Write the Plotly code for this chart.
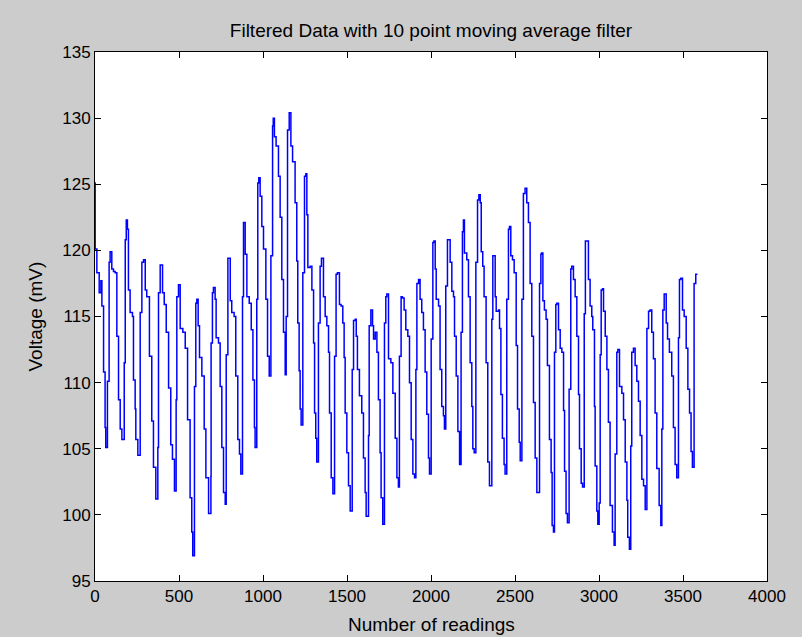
import plotly.graph_objects as go

# Readings (x) and filtered voltage (mV)
readings = [
    0, 1, 11, 25, 35, 41, 51, 60, 64, 74, 84, 90, 100, 110, 120, 130, 140, 150, 160,
    174, 180, 186, 193, 199, 209, 223, 229, 239, 243, 255,
    269, 279, 289, 299, 308, 324, 338, 348, 362,
    374, 378, 388, 402, 412, 424, 438, 451, 461, 473,
    483, 487, 497, 507, 523, 537, 551, 566, 576, 582,
    592, 600, 606, 614, 622, 636, 650, 660, 676,
    690, 691, 699, 705, 715, 721, 735, 745, 755, 765, 775,
    781, 791, 805, 814, 828, 838, 850, 860, 868,
    878, 884, 894, 904, 918, 930, 940, 949, 953,
    963, 969, 975, 983, 993, 1003, 1017, 1027, 1037,
    1047, 1057, 1061, 1068, 1078, 1092, 1102, 1112, 1122, 1132,
    1138, 1146, 1156, 1166, 1176, 1191, 1201, 1207, 1215, 1221, 1227,
    1237, 1247, 1255, 1261, 1267, 1281, 1291, 1301, 1307, 1314, 1320,
    1330, 1340, 1348, 1360, 1370, 1380, 1390, 1396, 1406, 1416,
    1426, 1435, 1443, 1455, 1465, 1475, 1483, 1489, 1499, 1509, 1519,
    1531, 1539, 1549, 1555, 1562, 1574, 1588, 1598, 1608, 1614,
    1628, 1632, 1642, 1652, 1658, 1668, 1678, 1687, 1697, 1703, 1713,
    1723, 1731, 1737, 1747, 1761, 1773, 1787, 1797, 1806,
    1812, 1822, 1830, 1840, 1850, 1862, 1872, 1882, 1892, 1902,
    1910, 1916, 1926, 1935, 1945, 1955, 1965, 1975, 1985, 1991,
    2001, 2011, 2017, 2025, 2031, 2045, 2054, 2064, 2074, 2080,
    2088, 2098, 2106, 2114, 2124, 2134, 2140, 2150, 2160, 2170,
    2179, 2187, 2193, 2199, 2213, 2223, 2233, 2243, 2249, 2257,
    2267, 2277, 2285, 2293, 2299, 2308, 2316, 2328, 2338, 2348,
    2362, 2368, 2378, 2382, 2388, 2402, 2408, 2416, 2425, 2435, 2441,
    2451, 2461, 2467, 2475, 2485, 2495, 2507, 2515, 2525, 2531,
    2541, 2550, 2560, 2570, 2580, 2590, 2600, 2610, 2620, 2630,
    2646, 2654, 2658, 2666, 2675, 2685, 2693, 2705, 2715, 2721, 2729,
    2735, 2743, 2749, 2759, 2769, 2779, 2789, 2795, 2804, 2812,
    2822, 2832, 2838, 2848, 2858, 2868, 2878, 2884, 2894, 2902,
    2912, 2919, 2927, 2937, 2947, 2957, 2963, 2973, 2977, 2987, 2993,
    3001, 3007, 3013, 3021, 3027, 3037, 3047, 3056, 3066, 3080, 3090,
    3096, 3106, 3112, 3122, 3136, 3146, 3156, 3166, 3171, 3181,
    3189, 3195, 3205, 3215, 3225, 3235, 3245, 3255, 3265, 3275,
    3285, 3295, 3304, 3314, 3324, 3334, 3344, 3358, 3368,
    3374, 3380, 3388, 3400, 3408, 3419, 3433, 3443, 3453, 3463,
    3473, 3479, 3487, 3497, 3507, 3519, 3529, 3539, 3548, 3556,
    3566, 3576, 3586,
]

voltage_mv = [
    125.1, 120.1, 118.3, 116.8, 117.7, 115.8, 110.8, 106.6, 105.1, 110.1, 119.1, 119.9, 118.6, 118.4, 118.3, 113.5, 108.7, 106.5, 105.7,
    111.5, 120.8, 122.3, 121.6, 117.0, 115.3, 115.0, 110.2, 108.0, 105.7, 104.5,
    115.3, 119.1, 119.3, 117.0, 116.5, 112.0, 107.1, 103.6, 101.2,
    105.1, 116.8, 118.9, 116.8, 115.9, 113.8, 109.6, 105.3, 104.2, 101.8,
    108.7, 116.5, 117.4, 114.1, 113.8, 112.6, 107.2, 101.3, 98.7, 96.9,
    109.7, 116.0, 116.3, 114.3, 111.9, 110.5, 106.5, 102.8, 100.1,
    102.9, 113.0, 116.8, 117.2, 116.3, 113.4, 113.0, 109.7, 105.1, 101.7, 100.8,
    112.1, 119.4, 116.2, 115.3, 115.0, 110.5, 105.7, 104.6, 103.1,
    116.5, 122.1, 119.7, 116.5, 116.0, 114.0, 110.2, 106.6, 105.1,
    116.3, 125.1, 125.5, 124.1, 121.8, 120.1, 116.3, 112.0, 110.5,
    119.6, 129.4, 130.0, 128.6, 127.9, 125.6, 122.5, 117.8, 113.8, 110.6,
    115.0, 129.1, 130.4, 127.9, 126.7, 123.6, 119.2, 114.5, 110.9, 108.0, 106.8,
    118.3, 125.6, 125.8, 122.7, 118.7, 118.8, 117.0, 113.0, 107.7, 105.8, 104.0,
    114.5, 118.8, 119.4, 116.5, 115.0, 114.3, 112.3, 107.7, 102.8, 101.6,
    112.0, 118.2, 118.3, 115.9, 115.8, 114.5, 111.9, 107.7, 104.7, 102.2, 100.3,
    111.0, 114.7, 114.8, 113.5, 111.0, 109.0, 107.7, 104.3, 101.7, 99.9,
    106.0, 114.3, 115.5, 114.3, 113.3, 113.8, 112.3, 108.7, 104.7, 101.3, 99.3,
    114.5, 116.5, 116.7, 111.8, 111.5, 109.2, 105.8, 102.8, 102.1,
    112.0, 116.5, 116.4, 115.5, 114.0, 113.5, 110.0, 105.7, 103.1, 102.8,
    111.0, 117.5, 117.8, 116.3, 115.3, 114.0, 110.8, 107.6, 104.3, 103.1,
    113.3, 120.6, 120.7, 118.6, 116.3, 115.8, 111.0, 108.2, 107.5, 106.5,
    117.3, 120.8, 120.8, 119.1, 116.9, 116.5, 113.5, 110.5, 106.3, 103.8,
    113.8, 121.4, 122.3, 119.8, 119.3, 116.5, 111.5, 108.2, 105.0, 104.7,
    119.1, 123.8, 124.2, 123.6, 119.9, 118.8, 116.5, 111.5, 104.0, 102.2,
    114.8, 119.6, 119.6, 116.5, 115.4, 115.5, 114.1, 109.1, 105.8, 103.8, 103.1,
    116.3, 121.6, 121.8, 119.6, 119.3, 118.3, 112.8, 108.0, 105.5, 104.1,
    116.3, 124.3, 124.7, 123.6, 122.1, 117.5, 113.5, 108.5, 104.3, 101.7,
    117.5, 119.7, 119.8, 116.2, 115.5, 114.8, 111.3, 105.7, 103.2, 99.2, 98.7,
    112.3, 115.9, 116.0, 114.0, 112.6, 112.3, 107.9, 103.3, 100.1, 99.4,
    109.5, 118.6, 118.8, 117.8, 116.5, 113.5, 109.1, 105.0, 102.4, 102.1,
    115.2, 120.7, 120.7, 117.8, 115.8, 115.0, 114.0, 108.2, 103.7, 100.3, 99.3,
    100.9, 112.1, 117.0, 117.1, 115.4, 113.5, 111.0, 107.0, 100.7, 98.7, 97.7,
    104.6, 112.3, 112.5, 109.7, 109.2, 107.2, 104.0, 101.1, 98.3, 97.4,
    105.2, 112.3, 112.6, 111.3, 110.1, 108.6, 106.0, 102.7, 102.2, 100.4,
    114.1, 115.4, 115.5, 113.8, 111.8, 107.7, 103.5, 100.7, 99.2,
    106.5, 115.5, 116.7, 114.5, 113.3, 112.3, 110.5, 106.6, 103.8, 102.8,
    113.4, 117.8, 117.9, 115.5, 115.0, 112.6, 109.5, 107.7, 104.8, 103.6,
    117.5, 118.2, 118.2,
]

title_text = "Filtered Data with 10 point moving average filter"
x_title = "Number of readings"
y_title = "Voltage (mV)"
x_ticks = [0, 500, 1000, 1500, 2000, 2500, 3000, 3500, 4000]
y_ticks = [95, 100, 105, 110, 115, 120, 125, 130, 135]

FONT = "Liberation Sans Narrow, Arial Narrow, Liberation Sans, Arial, sans-serif"

fig = go.Figure(
    go.Scatter(
        x=readings,
        y=voltage_mv,
        mode="lines",
        line=dict(color="#0000FF", width=1.5, shape="hv"),
        showlegend=False,
    )
)

axis_common = dict(
    showgrid=False,
    zeroline=False,
    showline=True,
    linecolor="black",
    linewidth=1,
    mirror="ticks",
    ticks="inside",
    ticklen=6,
    tickcolor="black",
    automargin=False,
    tickfont=dict(family=FONT, size=17, color="black"),
)

fig.update_layout(
    width=802,
    height=637,
    paper_bgcolor="#CCCCCC",
    plot_bgcolor="white",
    margin=dict(l=95, r=35, t=52, b=56),
    title=dict(
        text=title_text,
        x=0.5,
        xanchor="center",
        y=0.953,
        yanchor="middle",
        xref="paper",
        font=dict(family=FONT, size=19, color="black"),
    ),
    xaxis=dict(
        range=[0, 4000],
        tickvals=x_ticks,
        ticktext=[str(v) for v in x_ticks],
        **axis_common,
    ),
    yaxis=dict(
        range=[95, 135],
        tickvals=y_ticks,
        ticktext=[str(v) for v in y_ticks],
        **axis_common,
    ),
    annotations=[
        dict(
            text=x_title, xref="paper", yref="paper", x=0.5, y=0,
            xanchor="center", yanchor="middle", yshift=-43, showarrow=False,
            font=dict(family=FONT, size=19, color="black"),
        ),
        dict(
            text=y_title, xref="paper", yref="paper", x=0, y=0.5,
            xanchor="center", yanchor="middle", xshift=-60, textangle=-90,
            showarrow=False, font=dict(family=FONT, size=19, color="black"),
        ),
    ],
)

fig.write_html(
    "out.html",
    config={"displayModeBar": False},
    post_script="document.body.style.margin='0';document.body.style.padding='0';",
)
